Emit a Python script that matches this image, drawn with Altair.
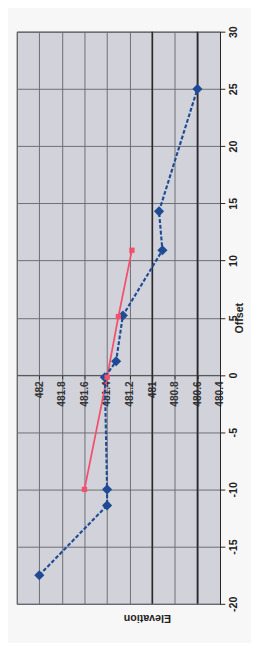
import altair as alt
import pandas as pd

# Data read from the (rotated) reference chart
blue_offset = [-17.5, -11.4, -10.0, -0.2, 1.2, 5.2, 10.9, 14.3, 25.0]
blue_elev = [482.0, 481.4, 481.4, 481.42, 481.32, 481.26, 480.91, 480.94, 480.6]
red_offset = [-10.0, -0.2, 5.1, 10.9]
red_elev = [481.6, 481.4, 481.3, 481.18]

elev_ticks = [480.4, 480.6, 480.8, 481.0, 481.2, 481.4, 481.6, 481.8, 482.0]
offset_ticks = [-20, -15, -10, -5, 0, 5, 10, 15, 20, 25, 30]
dark_grid = [481.0, 480.6]

blue = pd.DataFrame({"Elevation": blue_elev, "Offset": blue_offset, "i": range(len(blue_elev))})
red = pd.DataFrame({"Elevation": red_elev, "Offset": red_offset, "i": range(len(red_elev))})
dark = pd.DataFrame({"Elevation": dark_grid})

W, H = 210, 591
FONT = "Liberation Sans"

xscale = alt.Scale(domain=[480.4, 482.2], reverse=True, nice=False, zero=False)
yscale = alt.Scale(domain=[-20, 30], nice=False, zero=False)

xenc = alt.X(
    "Elevation:Q",
    scale=xscale,
    axis=alt.Axis(
        orient="bottom",
        offset=-H * 20 / 50,
        values=elev_ticks,
        tickCount=len(elev_ticks) + 2,
        format="~g",
        labelOverlap=False,
        labelAngle=270,
        labelFontSize=10.5,
        labelFontWeight="bold",
        labelColor="#333333",
        labelFont=FONT,
        tickSize=4,
        tickColor="#333333",
        domainColor="#555555",
        gridColor="#6c6c74",
        gridWidth=1,
        title=None,
        labelPadding=2,
    ),
)
yenc = alt.Y(
    "Offset:Q",
    scale=yscale,
    axis=alt.Axis(
        orient="right",
        values=offset_ticks,
        tickCount=len(offset_ticks) + 2,
        labelExpr="replace(datum.label, '\u2212', '-')",
        labelOverlap=False,
        labelAngle=270,
        labelFontSize=11,
        labelFontWeight="bold",
        labelColor="#222222",
        labelFont=FONT,
        tickSize=5,
        tickColor="#222222",
        domainColor="#222222",
        gridColor="#6c6c74",
        gridWidth=1,
        title="Offset",
        titleAngle=270,
        titleFont=FONT,
        titleFontSize=11,
        titleFontWeight="bold",
        titleColor="#222222",
        titleX=20,
        titleY=H / 2,
        titleAlign="center",
        titleBaseline="middle",
        labelPadding=3,
    ),
)

base_grid = alt.Chart(blue).mark_point(opacity=0).encode(x=xenc, y=yenc)

dark_rules = alt.Chart(dark).mark_rule(color="#2a2a2a", strokeWidth=1.6).encode(
    x=alt.X("Elevation:Q", scale=xscale)
)

blue_line = alt.Chart(blue).mark_line(
    color="#1f4b94", strokeWidth=2.2, strokeDash=[4, 2]
).encode(
    x=alt.X("Elevation:Q", scale=xscale),
    y=alt.Y("Offset:Q", scale=yscale),
    order="i:Q",
)
blue_pts = alt.Chart(blue).mark_point(
    shape="diamond", filled=True, size=110, color="#1f4b94", opacity=1
).encode(
    x=alt.X("Elevation:Q", scale=xscale),
    y=alt.Y("Offset:Q", scale=yscale),
)

red_line = alt.Chart(red).mark_line(color="#f4506c", strokeWidth=1.8).encode(
    x=alt.X("Elevation:Q", scale=xscale),
    y=alt.Y("Offset:Q", scale=yscale),
    order="i:Q",
)
red_pts = alt.Chart(red).mark_point(
    shape="square", filled=True, size=30, color="#f4506c", opacity=1
).encode(
    x=alt.X("Elevation:Q", scale=xscale),
    y=alt.Y("Offset:Q", scale=yscale),
)

elev_title = alt.Chart(pd.DataFrame({"t": ["Elevation"]})).mark_text(
    angle=180, font=FONT, fontSize=11, fontWeight="bold", color="#222222",
    align="center", baseline="middle",
).encode(text="t:N", x=alt.value(135), y=alt.value(606))

chart = alt.layer(
    base_grid, dark_rules, red_line, blue_line, blue_pts, red_pts, elev_title
).properties(
    width=W,
    height=H,
    padding={"left": 9, "top": 14, "right": 32, "bottom": 30},
    autosize=alt.AutoSizeParams(type="none"),
    background="#f7f7f7",
).configure_view(
    fill="#d2d2da", stroke="#333333", strokeWidth=1
)

chart.save("out.html", embed_options={"renderer": "svg", "actions": False})
